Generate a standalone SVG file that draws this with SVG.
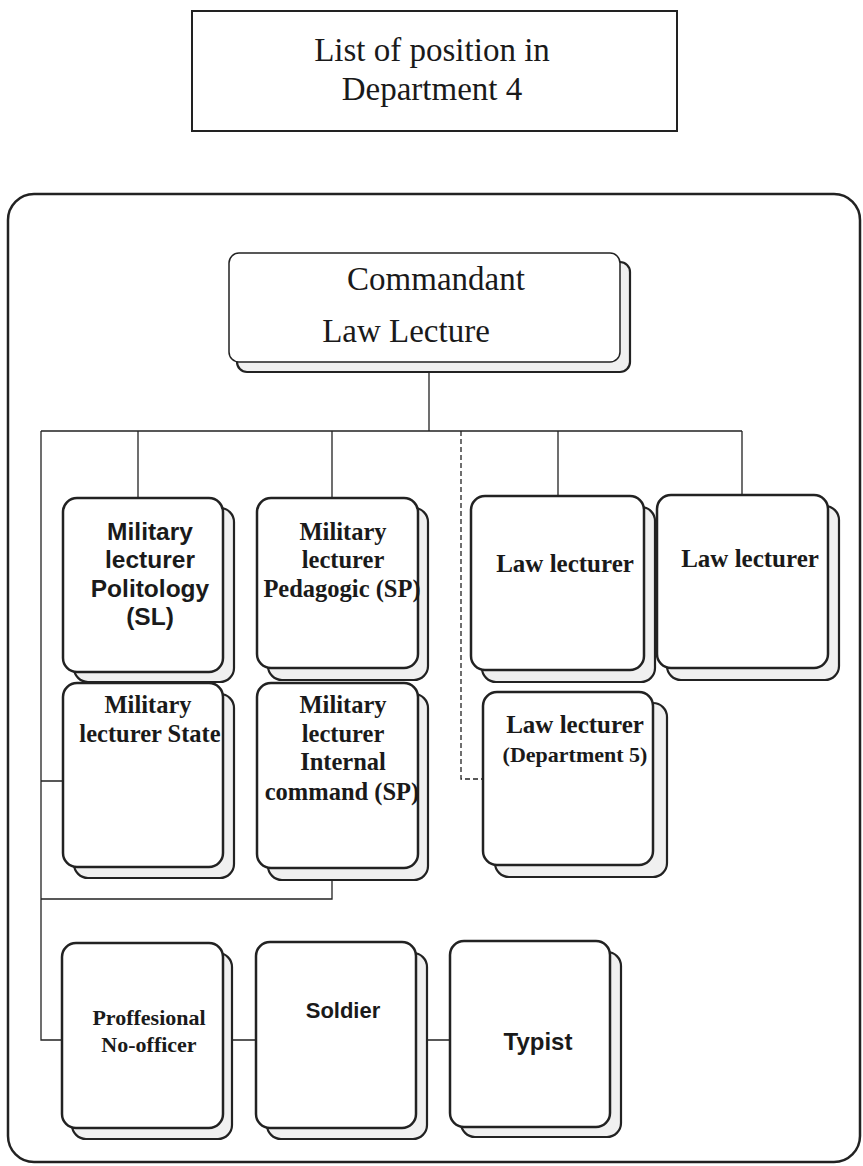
<svg xmlns="http://www.w3.org/2000/svg" width="863" height="1166" viewBox="0 0 863 1166">
<style>
.serif{font-family:"Liberation Serif","Times New Roman",serif;fill:#1a1a1a}
.sans{font-family:"Liberation Sans",Arial,sans-serif;fill:#1a1a1a}
.b{font-weight:bold}
.front{fill:#fff;stroke:#222;stroke-width:2.5}
.shadow{fill:#f0f0f0;stroke:#222;stroke-width:2.2}
.conn{fill:none;stroke:#222;stroke-width:1.3}
.dash{fill:none;stroke:#222;stroke-width:1.3;stroke-dasharray:5,3}
</style>
<rect width="863" height="1166" fill="#fff"/>
<g id="title">
<rect x="192" y="11" width="485" height="120" fill="#fff" stroke="#222" stroke-width="2"/>
<text class="serif" x="432" y="61" font-size="33" text-anchor="middle">List of position in</text>
<text class="serif" x="432" y="100" font-size="33" text-anchor="middle">Department 4</text>
</g>
<g id="frame">
<rect x="8" y="194" width="852" height="968" rx="26" fill="none" stroke="#222" stroke-width="2.5"/>
</g>
<g id="connectors">
<path class="conn" d="M429 373V431M41 431H742M138 431V497M332 431V497M558 431V495M742 431V494"/>
<path class="conn" d="M41 431V1040H63M41 781H63M41 899H332V868"/>
<path class="dash" d="M461 431V779H483"/>
<path class="conn" d="M232 1040H256M427 1040H450"/>
</g>
<g id="commandant">
<rect x="237" y="262" width="393" height="110" rx="10" class="shadow"/>
<rect x="229" y="253" width="391" height="109" rx="10" fill="#fff" stroke="#222" stroke-width="1.5"/>
<text class="serif" x="436" y="290" font-size="33" text-anchor="middle">Commandant</text>
<text class="serif" x="406" y="342" font-size="33" text-anchor="middle">Law Lecture</text>
</g>
<g id="politology">
<rect x="74" y="508" width="160" height="174" rx="14" class="shadow"/>
<rect x="63" y="498" width="160" height="174" rx="14" class="front"/>
<text class="sans b" x="150" y="540" font-size="24.5" text-anchor="middle">Military</text>
<text class="sans b" x="150" y="568" font-size="24.5" text-anchor="middle">lecturer</text>
<text class="sans b" x="150" y="597" font-size="24.5" text-anchor="middle">Politology</text>
<text class="sans b" x="150" y="625" font-size="24.5" text-anchor="middle">(SL)</text>
</g>
<g id="pedagogic">
<rect x="268" y="508" width="160" height="172" rx="14" class="shadow"/>
<rect x="257" y="498" width="161" height="170" rx="14" class="front"/>
<text class="serif b" x="343" y="540" font-size="24.5" text-anchor="middle">Military</text>
<text class="serif b" x="343" y="568" font-size="24.5" text-anchor="middle">lecturer</text>
<text class="serif b" x="342" y="597" font-size="24.5" text-anchor="middle">Pedagogic (SP)</text>
</g>
<g id="state">
<rect x="74" y="694" width="160" height="184" rx="14" class="shadow"/>
<rect x="63" y="683" width="160" height="184" rx="14" class="front"/>
<text class="serif b" x="148" y="713" font-size="24.5" text-anchor="middle">Military</text>
<text class="serif b" x="150" y="742" font-size="24.5" text-anchor="middle">lecturer State</text>
</g>
<g id="internal">
<rect x="268" y="694" width="160" height="186" rx="14" class="shadow"/>
<rect x="257" y="683" width="161" height="185" rx="14" class="front"/>
<text class="serif b" x="343" y="713" font-size="24.5" text-anchor="middle">Military</text>
<text class="serif b" x="343" y="742" font-size="24.5" text-anchor="middle">lecturer</text>
<text class="serif b" x="343" y="770" font-size="24.5" text-anchor="middle">Internal</text>
<text class="serif b" x="342" y="800" font-size="24.5" text-anchor="middle">command (SP)</text>
</g>
<g id="law1">
<rect x="482" y="507" width="173" height="175" rx="14" class="shadow"/>
<rect x="471" y="496" width="173" height="174" rx="14" class="front"/>
<text class="serif b" x="565" y="572" font-size="25" text-anchor="middle">Law lecturer</text>
</g>
<g id="law2">
<rect x="667" y="506" width="172" height="174" rx="14" class="shadow"/>
<rect x="657" y="495" width="171" height="173" rx="14" class="front"/>
<text class="serif b" x="750" y="567" font-size="25" text-anchor="middle">Law lecturer</text>
</g>
<g id="law5">
<rect x="495" y="703" width="172" height="174" rx="14" class="shadow"/>
<rect x="483" y="692" width="170" height="173" rx="14" class="front"/>
<text class="serif b" x="575" y="733" font-size="25" text-anchor="middle">Law lecturer</text>
<text class="serif b" x="575" y="762" font-size="22" text-anchor="middle">(Department 5)</text>
</g>
<g id="proffesional">
<rect x="72" y="953" width="160" height="186" rx="14" class="shadow"/>
<rect x="62" y="943" width="161" height="185" rx="14" class="front"/>
<text class="serif b" x="149" y="1025" font-size="22" text-anchor="middle">Proffesional</text>
<text class="serif b" x="149" y="1052" font-size="22" text-anchor="middle">No-officer</text>
</g>
<g id="soldier">
<rect x="267" y="953" width="160" height="186" rx="14" class="shadow"/>
<rect x="256" y="942" width="160" height="186" rx="14" class="front"/>
<text class="sans b" x="343" y="1018" font-size="22" text-anchor="middle">Soldier</text>
</g>
<g id="typist">
<rect x="461" y="952" width="160" height="185" rx="14" class="shadow"/>
<rect x="450" y="941" width="160" height="186" rx="14" class="front"/>
<text class="sans b" x="538" y="1050" font-size="24" text-anchor="middle">Typist</text>
</g>
</svg>
